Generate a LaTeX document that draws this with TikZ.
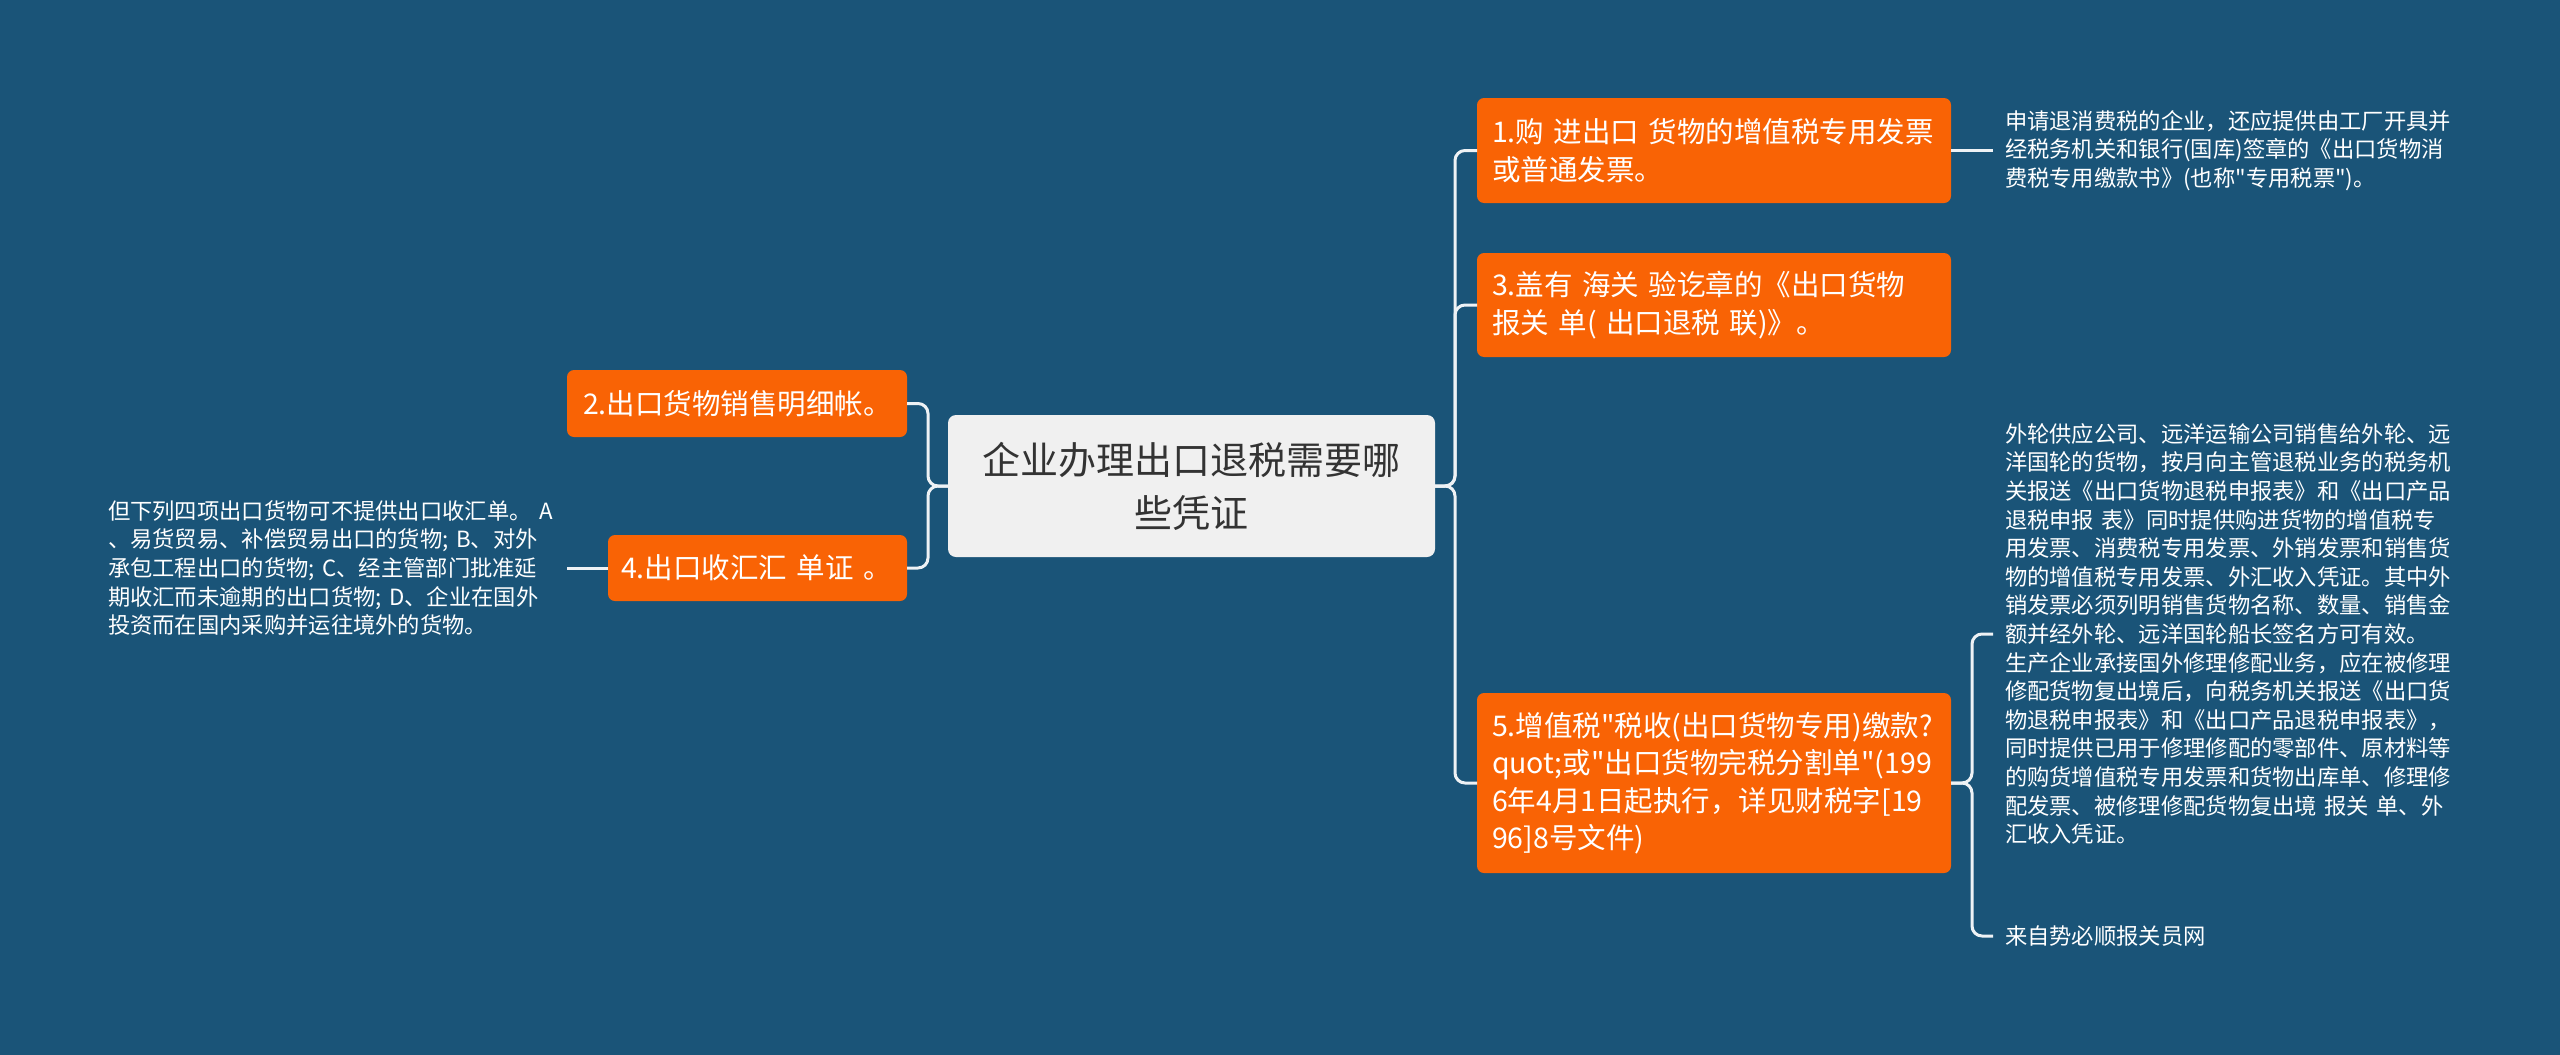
\documentclass[tikz,border=0pt]{standalone}
\usepackage{fontspec}
\setmainfont{Noto Sans CJK SC}
\newfontfamily\cjkmain{Noto Sans CJK SC}
\definecolor{bgblue}{HTML}{1A5478}
\definecolor{orangebox}{HTML}{F96305}
\definecolor{centrefill}{HTML}{F0F0F0}
\definecolor{centretext}{HTML}{333333}
\definecolor{linecol}{HTML}{EEF2F5}
\tikzset{
  orangenode/.style={fill=orangebox, rounded corners=7pt, text=white, inner xsep=15pt, inner ysep=4pt,
    outer sep=0pt, anchor=west, align=left, font=\cjkmain\fontsize{28.5}{37.5}\selectfont},
  centrenode/.style={fill=centrefill, rounded corners=8pt, text=centretext, align=center,
    outer sep=0pt, minimum width=487pt, minimum height=142pt, font=\cjkmain\fontsize{38}{53}\selectfont},
  leafnode/.style={text=white, inner xsep=12pt, inner ysep=0pt, outer sep=0pt, align=left,
    font=\cjkmain\fontsize{22.3}{28.6}\selectfont},
  conn/.style={draw=linecol, line width=3pt, rounded corners=10pt}
}
\begin{document}
\begin{tikzpicture}[x=1pt,y=-1pt]
\fill[bgblue] (0,0) rectangle (2560,1055);
\useasboundingbox (0,0) rectangle (2560,1055);

% centre
\node[centrenode] (c) at (1191.5,486) {企业办理出口退税需要哪\\些凭证};

% right branch nodes
\node[orangenode, minimum width=474pt, minimum height=105pt, text width=444pt] (n1) at (1477,150.5)
  {1.购 进出口 货物的增值税专用发票\\或普通发票。};
\node[orangenode, minimum width=474pt, minimum height=104pt, text width=444pt] (n3) at (1477,305)
  {3.盖有 海关 验讫章的《出口货物\\报关 单( 出口退税 联)》。};
\node[orangenode, minimum width=474pt, minimum height=180pt, text width=444pt] (n5) at (1477,783)
  {5.增值税"税收(出口货物专用)缴款?\\quot;或"出口货物完税分割单"(199\\6年4月1日起执行，详见财税字[19\\96]8号文件)};

% left branch nodes
\node[orangenode, inner xsep=16pt, minimum width=340pt, minimum height=67pt, text width=308pt] (n2) at (567,403.5)
  {2.出口货物销售明细帐。};
\node[orangenode, inner xsep=13pt, minimum width=299pt, minimum height=66pt, text width=273pt] (n4) at (608,568)
  {\mbox{4.出口收汇汇 单证 。}};

% leaves
\node[leafnode, anchor=west, text width=460pt] (l1) at ([xshift=42pt]n1.east)
  {申请退消费税的企业，还应提供由工厂开具并\\经税务机关和银行(国库)签章的《出口货物消\\费税专用缴款书》(也称"专用税票")。};
\node[leafnode, anchor=west, text width=460pt] (lA) at (1993,634)
  {外轮供应公司、远洋运输公司销售给外轮、远\\洋国轮的货物，按月向主管退税业务的税务机\\关报送《出口货物退税申报表》和《出口产品\\退税申报 表》同时提供购进货物的增值税专\\用发票、消费税专用发票、外销发票和销售货\\物的增值税专用发票、外汇收入凭证。其中外\\销发票必须列明销售货物名称、数量、销售金\\额并经外轮、远洋国轮船长签名方可有效。\\生产企业承接国外修理修配业务，应在被修理\\修配货物复出境后，向税务机关报送《出口货\\物退税申报表》和《出口产品退税申报表》，\\同时提供已用于修理修配的零部件、原材料等\\的购货增值税专用发票和货物出库单、修理修\\配发票、被修理修配货物复出境 报关 单、外\\汇收入凭证。};
\node[leafnode, anchor=west] (lC) at (1993,936) {来自势必顺报关员网};
\node[leafnode, anchor=east, text width=447pt] (l4) at ([xshift=-41pt]n4.west)
  {但下列四项出口货物可不提供出口收汇单。 A\\、易货贸易、补偿贸易出口的货物; B、对外\\承包工程出口的货物; C、经主管部门批准延\\期收汇而未逾期的出口货物; D、企业在国外\\投资而在国内采购并运往境外的货物。};

% connectors
\draw[conn] (c.east) -- ++(20,0) |- (n1.west);
\draw[conn] (c.east) -- ++(20,0) |- (n3.west);
\draw[conn] (c.east) -- ++(20,0) |- (n5.west);
\draw[conn] (c.west) -- ++(-20,0) |- (n2.east);
\draw[conn] (c.west) -- ++(-20,0) |- (n4.east);
\draw[conn] (n1.east) -- (l1.west);
\draw[conn] (n5.east) -- ++(21,0) |- (lA.west);
\draw[conn] (n5.east) -- ++(21,0) |- (lC.west);
\draw[conn] (n4.west) -- (l4.east);
\end{tikzpicture}
\end{document}
